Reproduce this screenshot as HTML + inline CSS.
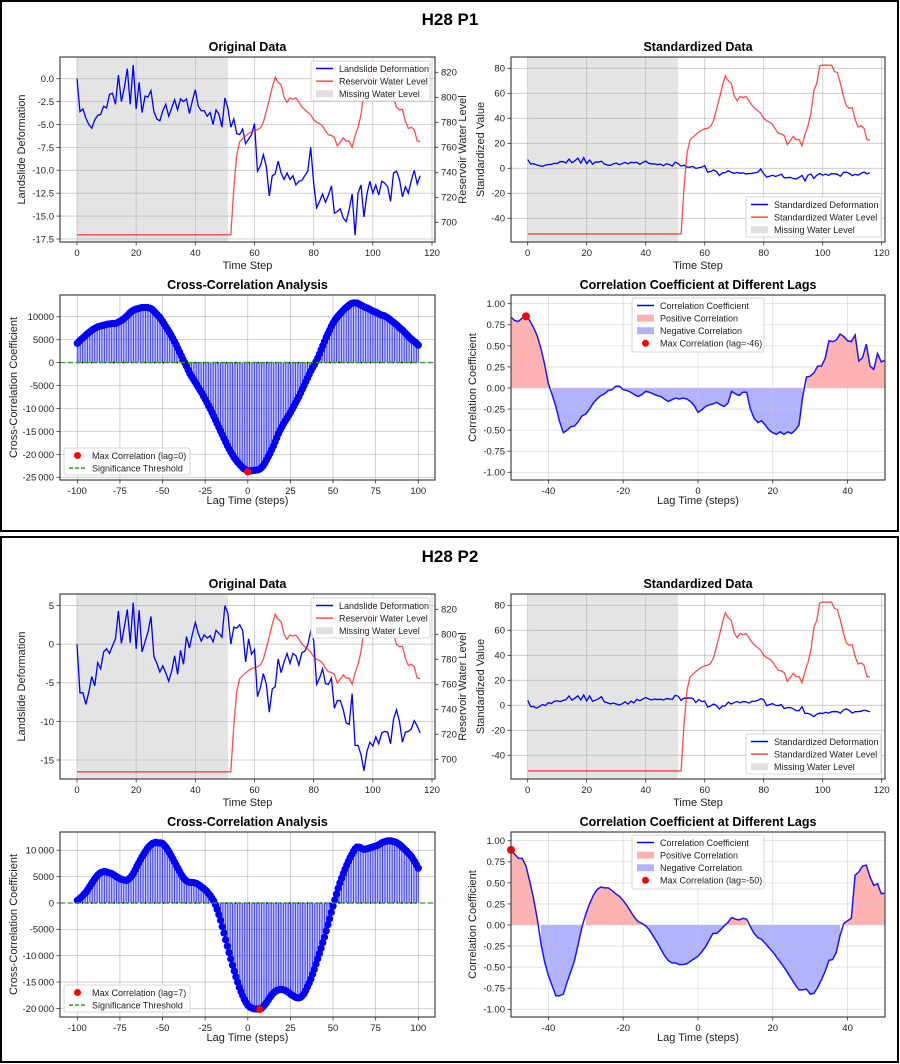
<!DOCTYPE html>
<html><head><meta charset="utf-8"><style>
html,body{margin:0;padding:0;background:#fff}
svg{display:block;font-family:"Liberation Sans",sans-serif}
</style></head><body>
<svg id="chart" width="900" height="1064" viewBox="0 0 900 1064" xmlns="http://www.w3.org/2000/svg"></svg>
<script>
// ---------- data ----------
const timeSteps = Array.from({length:117},(_,i)=>i);
const water = [690,690,690,690,690,690,690,690,690,690,690,690,690,690,690,690,690,690,690,690,690,690,690,690,690,690,690,690,690,690,690,690,690,690,690,690,690,690,690,690,690,690,690,690,690,690,690,690,690,690,690,690,690,
727,754,764.5,767,769,771,772.5,773.5,774,775.5,780,789,798,808,816,812,810,800,796,799.5,798.5,799.5,796,792.5,790,788,786,782,780,779,777,773,770,769.5,768,761,764,767.5,765,765,760,769,776,786,804,810,824,824.5,824.5,824.5,824.5,819.5,818.5,810,800,792,790,790.5,781,775,776,774,765,764.5];
const waterStd = [-52.5,-52.5,-52.5,-52.5,-52.5,-52.5,-52.5,-52.5,-52.5,-52.5,-52.5,-52.5,-52.5,-52.5,-52.5,-52.5,-52.5,-52.5,-52.5,-52.5,-52.5,-52.5,-52.5,-52.5,-52.5,-52.5,-52.5,-52.5,-52.5,-52.5,-52.5,-52.5,-52.5,-52.5,-52.5,-52.5,-52.5,-52.5,-52.5,-52.5,-52.5,-52.5,-52.5,-52.5,-52.5,-52.5,-52.5,-52.5,-52.5,-52.5,-52.5,-52.5,-52.5,
-15,12,22.5,25,27,29,30.5,31.5,32,33.5,38,47,56,66,74,70,68,58,54,57.5,56.5,57.5,54,50.5,48,46,44,40,38,37,35,31,28,27.5,26,19,22,25.5,23,23,18,27,34,44,62,68,82,82.5,82.5,82.5,82.5,77.5,76.5,68,58,50,48,48.5,39,33,34,32,23,22.5];
const defo1 = [0,-3.6,-3.3,-4.3,-5.0,-5.4,-4.5,-4.0,-3.9,-3.0,-3.2,-1.7,-1.6,-2.8,0.4,-2.5,-1.0,1.1,-2.8,1.5,-3.3,-0.4,-3.7,-1.9,-2.0,-1.3,-3.6,-4.4,-4.6,-3.5,-2.8,-4.1,-3.2,-2.3,-3.4,-2.2,-2.5,-2.2,-3.8,-2.4,-1.2,-3.0,-3.5,-3.5,-4.1,-3.7,-5.0,-3.4,-3.9,-5.3,-2.1,-3.2,-5.3,-4.4,-6.0,-6.1,-5.5,-7.1,-6.6,-6.1,-4.9,-10.1,-9.5,-8.3,-9.6,-12.8,-10.6,-10.4,-9.0,-10.3,-11.0,-10.3,-11.0,-10.6,-11.6,-11.2,-11.1,-10.6,-10.1,-7.5,-11.4,-14.1,-13.4,-12.6,-13.5,-12.7,-11.7,-14.7,-14.5,-14.2,-15.2,-15.6,-14.3,-12.6,-17.1,-12.5,-11.6,-15.1,-12.6,-11.2,-12.5,-11.6,-12.7,-11.2,-11.4,-11.8,-13.4,-10.3,-10.1,-11.0,-12.9,-11.8,-12.5,-11.1,-10.0,-11.5,-10.6];
const defoStd1 = [7,3.4,3.7,2.7,2,1.6,2.5,3,3.1,4,3.8,5.3,5.4,4.2,7.4,4.5,6,8.1,4.2,8.5,3.7,6.6,3.3,5.1,5,5.7,3.4,2.6,2.4,3.5,4.2,2.9,3.8,4.7,3.6,4.8,4.5,4.8,3.2,4.6,5.8,4,3.5,3.5,2.9,3.3,2,3.6,3.1,1.7,4.9,3.8,1.7,2.6,1,0.9,1.5,-0.1,0.4,0.9,2.1,-3.1,-2.5,-1.3,-2.6,-5.8,-3.6,-3.4,-2,-3.3,-4,-3.3,-4,-3.6,-4.6,-4.2,-4.1,-3.6,-3.1,-0.5,-4.4,-7.1,-6.4,-5.6,-6.5,-5.7,-4.7,-7.7,-7.5,-7.2,-8.2,-8.6,-7.3,-5.6,-10.1,-5.5,-4.6,-8.1,-5.6,-4.2,-5.5,-4.6,-5.7,-4.2,-4.4,-4.8,-6.4,-3.3,-3.1,-4,-5.9,-4.8,-5.5,-4.1,-3,-4.5,-3.6];
const defo2 = [0,-6.3,-6.3,-7.8,-6.2,-4.2,-5.4,-2.4,-3.2,-1.0,-0.6,-1.2,-0.2,0.7,4.3,0.1,2.2,4.5,0.2,5.4,-0.6,4.4,-1.0,0.3,1.6,3.6,-1.6,-2.5,-3.6,-2.8,-3.7,-4.8,-3.5,-1.5,-3.9,-0.8,-2.6,1.0,-0.5,1.3,2.8,1.4,0.4,1.2,0.8,1.1,0.3,1.8,1.4,0.9,5.0,4.0,0,2.2,2.1,2.5,1.8,-2.3,0.7,-1.3,-0.7,-6.8,-5.6,-3.8,-5.2,-8.8,-5.8,-5.5,-1.9,-3.7,-2.3,-1.2,-2.5,-1.2,-1.5,-2.7,-1.1,-0.9,-0.1,1.7,0.5,-5.2,-4.4,-3.2,-5.1,-5.2,-4.4,-8.3,-7.3,-7.3,-8.5,-10.2,-10.4,-6.4,-13.1,-13.1,-14.3,-16.4,-13.9,-12.7,-13.2,-12.0,-12.9,-11.5,-11.3,-11.4,-12.9,-9.7,-8.5,-10.0,-12.7,-11.4,-11.3,-11.0,-9.9,-10.6,-11.5];
const defoStd2 = [4,-1,-1,-2.2,-1,0.6,-0.3,2.1,1.4,3.2,3.5,3,3.8,4.6,7.4,4.1,5.8,7.6,4.2,8.3,3.5,7.5,3.2,4.2,5.3,6.9,2.7,2,1.1,1.8,1,0.2,1.2,2.8,0.9,3.4,1.9,4.8,3.6,5,6.2,5.1,4.3,5,4.6,4.9,4.2,5.4,5.1,4.7,8,7.2,4,5.8,5.7,6,5.4,2.2,4.6,3,3.4,-1.4,-0.5,1,-0.2,-3,-0.6,-0.4,2.5,1,2.2,3,2,3,2.8,1.8,3.1,3.3,3.9,5.4,4.4,-0.2,0.5,1.4,-0.1,-0.2,0.5,-2.6,-1.8,-1.8,-2.8,-4.2,-4.3,-1.1,-6.5,-6.5,-7.4,-9.1,-7.1,-6.2,-6.6,-5.6,-6.3,-5.2,-5,-5.1,-6.3,-3.8,-2.8,-4,-6.2,-5.1,-5,-4.8,-3.9,-4.5,-5.2];
const missingSpan = [0, 51];
const xcorrLags = Array.from({length:201},(_,i)=>i-100);
// cross-correlation values in thousands
const xcorr1 = [4.2,4.6,5.0,5.3,5.6,6.0,6.3,6.6,6.9,7.2,7.4,
7.6,7.8,7.9,8.0,8.1,8.2,8.3,8.4,8.4,8.5,
8.5,8.5,8.6,8.8,9.0,9.2,9.5,9.8,10.1,10.5,
10.9,11.2,11.4,11.6,11.7,11.8,11.9,12.0,12.0,12.0,
12.0,11.9,11.8,11.6,11.2,10.8,10.4,10.0,9.5,9.0,
8.4,7.8,7.2,6.6,6.0,5.3,4.6,3.9,3.1,2.3,
1.5,0.7,0.0,-0.8,-1.6,-2.4,-3.0,-3.6,-4.2,-4.8,
-5.4,-6.0,-6.6,-7.3,-8.0,-8.7,-9.4,-10.1,-10.9,-11.7,
-12.5,-13.3,-14.1,-14.9,-15.7,-16.5,-17.3,-18.1,-18.8,-19.5,
-20.1,-20.7,-21.2,-21.7,-22.1,-22.5,-22.9,-23.2,-23.4,-23.8,
-23.6,-23.6,-23.5,-23.5,-23.4,-23.4,-23.2,-22.9,-22.5,-21.9,
-21.2,-20.5,-19.8,-19.0,-18.2,-17.3,-16.4,-15.5,-14.7,-14.0,
-13.3,-12.7,-12.1,-11.5,-10.9,-10.2,-9.5,-8.8,-8.1,-7.4,
-6.6,-5.8,-5.0,-4.2,-3.4,-2.6,-1.8,-1.1,-0.5,0.2,
1.0,1.9,2.8,3.7,4.6,5.5,6.3,7.1,7.9,8.6,
9.2,9.7,10.2,10.6,11.0,11.4,11.8,12.1,12.4,12.7,
12.9,13.0,13.0,13.0,12.8,12.6,12.4,12.2,12.0,11.9,
11.7,11.5,11.3,11.1,11.0,10.8,10.6,10.4,10.3,10.2,
10.0,9.8,9.5,9.2,8.9,8.6,8.3,8.0,7.6,7.3,
7.0,6.6,6.2,5.8,5.4,5.1,4.8,4.5,4.2,3.8];
const xcorr2 = [0.5,0.7,1.0,1.3,1.7,2.0,2.5,3.0,3.5,4.0,4.5,
4.9,5.3,5.6,5.8,5.9,6.0,5.9,5.8,5.7,5.6,
5.4,5.2,5.0,4.8,4.6,4.5,4.4,4.3,4.3,4.5,
4.8,5.2,5.7,6.3,7.0,7.6,8.2,8.8,9.3,9.8,
10.3,10.7,11.0,11.3,11.4,11.5,11.4,11.4,11.4,11.3,
11.0,10.6,10.1,9.6,9.0,8.4,7.8,7.2,6.6,6.0,
5.4,4.9,4.5,4.2,4.0,3.9,3.9,3.9,3.8,3.7,
3.5,3.3,3.0,2.8,2.5,2.2,1.8,1.4,0.9,0.4,
-0.3,-1.2,-2.2,-3.3,-4.5,-5.7,-7.0,-8.2,-9.4,-10.6,
-11.8,-12.9,-14.0,-15.0,-16.0,-16.8,-17.6,-18.3,-18.9,-19.4,
-19.7,-19.9,-20.0,-20.1,-20.1,-20.1,-20.2,-20.0,-19.7,-19.3,
-18.9,-18.4,-17.9,-17.5,-17.1,-16.8,-16.6,-16.5,-16.4,-16.4,
-16.5,-16.6,-16.8,-17.0,-17.3,-17.5,-17.7,-17.9,-18.0,-18.0,
-17.9,-17.6,-17.2,-16.6,-15.9,-15.2,-14.4,-13.5,-12.6,-11.6,
-10.6,-9.6,-8.6,-7.5,-6.5,-5.3,-4.1,-3.0,-1.8,-0.6,
0.6,1.7,2.8,3.8,4.7,5.6,6.4,7.2,7.9,8.6,
9.2,9.8,10.3,10.6,10.6,10.5,10.3,10.2,10.2,10.3,
10.4,10.5,10.6,10.7,10.8,10.9,11.1,11.3,11.5,11.6,
11.7,11.8,11.8,11.8,11.7,11.6,11.5,11.3,11.1,10.8,
10.5,10.2,9.9,9.5,9.2,8.8,8.3,7.8,7.2,6.6];
const corrLags = Array.from({length:101},(_,i)=>i-50);
const corr1 = [0.84,0.80,0.79,0.83,0.85,0.80,0.72,0.62,0.47,0.28,0.05,-0.08,-0.22,-0.40,-0.53,-0.50,-0.46,-0.45,-0.40,-0.33,-0.31,-0.25,-0.18,-0.13,-0.09,-0.07,-0.03,-0.02,0.02,0.02,-0.02,-0.03,-0.05,-0.08,-0.10,-0.08,-0.04,-0.05,-0.07,-0.09,-0.10,-0.13,-0.16,-0.14,-0.12,-0.13,-0.12,-0.13,-0.16,-0.21,-0.29,-0.26,-0.22,-0.20,-0.19,-0.17,-0.20,-0.22,-0.18,-0.04,-0.07,-0.09,-0.05,-0.05,-0.25,-0.36,-0.41,-0.39,-0.44,-0.50,-0.53,-0.55,-0.52,-0.55,-0.52,-0.54,-0.50,-0.44,-0.10,0.13,0.14,0.18,0.26,0.26,0.35,0.56,0.55,0.57,0.64,0.61,0.56,0.55,0.63,0.32,0.36,0.52,0.26,0.22,0.41,0.31,0.33];
const corr2 = [0.89,0.84,0.79,0.79,0.70,0.52,0.32,0.08,-0.22,-0.44,-0.60,-0.72,-0.84,-0.84,-0.82,-0.68,-0.55,-0.42,-0.22,-0.02,0.13,0.25,0.35,0.42,0.45,0.44,0.44,0.41,0.37,0.34,0.29,0.23,0.16,0.09,0.04,0.02,-0.01,-0.06,-0.13,-0.20,-0.28,-0.36,-0.42,-0.45,-0.45,-0.47,-0.47,-0.46,-0.43,-0.40,-0.37,-0.32,-0.26,-0.18,-0.10,-0.10,-0.06,-0.01,0.03,0.09,0.07,0.06,0.08,0.07,-0.02,-0.10,-0.15,-0.17,-0.22,-0.27,-0.32,-0.38,-0.44,-0.50,-0.57,-0.64,-0.71,-0.77,-0.77,-0.76,-0.82,-0.81,-0.74,-0.65,-0.55,-0.42,-0.41,-0.32,-0.12,0.02,0.05,0.08,0.59,0.63,0.70,0.71,0.57,0.47,0.49,0.37,0.38];
const timeTicks = [0,20,40,60,80,100,120];
const waterTicks = [700,720,740,760,780,800,820];
const stdTicks = [-40,-20,0,20,40,60,80];
const lagTicks = [-100,-75,-50,-25,0,25,50,75,100];
const corrLagTicks = [-40,-20,0,20,40];
const corrTicks = [-1,-0.75,-0.5,-0.25,0,0.25,0.5,0.75,1];
const defoTicks1 = [0,-2.5,-5,-7.5,-10,-12.5,-15,-17.5];
const defoTicks2 = [5,0,-5,-10,-15];
const xcTicks1 = [10,5,0,-5,-10,-15,-20,-25];
const xcTicks2 = [10,5,0,-5,-10,-15,-20];

// ---------- helpers ----------
const NS='http://www.w3.org/2000/svg';
const svg=document.getElementById('chart');
function mk(tag,attrs,parent){const e=document.createElementNS(NS,tag);for(const k in attrs)e.setAttribute(k,attrs[k]);(parent||svg).appendChild(e);return e;}
function lin(d0,d1,r0,r1){return v=>r0+(v-d0)*(r1-r0)/(d1-d0);}
function txt(p,x,y,s,o){o=o||{};const t=mk('text',{x:x,y:y,'font-size':o.size||9.5,'text-anchor':o.anchor||'middle',fill:o.fill||'#222','font-weight':o.bold?'bold':'normal'},p);if(o.rot)t.setAttribute('transform','rotate(-90 '+x+' '+y+')');t.textContent=s;return t;}
function minus(s){return String(s);}
function pathD(xs,ys,sx,sy){return xs.map((x,i)=>(i?'L':'M')+sx(x).toFixed(2)+','+sy(ys[i]).toFixed(2)).join('');}
function gridX(g,ticks,sx,T,B,col,op){ticks.forEach(t=>{const l=mk('line',{x1:sx(t),x2:sx(t),y1:T,y2:B,stroke:col,'stroke-width':0.8,opacity:op},g);});}
function gridY(g,ticks,sy,L,R,col,op){ticks.forEach(t=>{const l=mk('line',{x1:L,x2:R,y1:sy(t),y2:sy(t),stroke:col,'stroke-width':0.8,opacity:op},g);});}
function xTickLabels(g,ticks,sx,B,fmt){ticks.forEach(t=>{mk('line',{x1:sx(t),x2:sx(t),y1:B,y2:B+3.5,stroke:'#333','stroke-width':0.8},g);const e=txt(g,sx(t),B+14,minus(fmt(t)));});}
function yTickLabels(g,ticks,sy,L,fmt,right){ticks.forEach(t=>{mk('line',{x1:L,x2:right?L+3.5:L-3.5,y1:sy(t),y2:sy(t),stroke:'#333','stroke-width':0.8},g);const e=txt(g,right?L+6:L-6,sy(t)+3.4,minus(fmt(t)),{anchor:right?'start':'end'});});}
function frame(g,L,T,R,B){const r=mk('rect',{x:L,y:T,width:R-L,height:B-T,fill:'none',stroke:'#444','stroke-width':1.2},g);}
function legend(g,x,y,w,h,items){const box=mk('rect',{x:x,y:y,width:w,height:h,rx:2,fill:'#fff','fill-opacity':0.85,stroke:'#ccc','stroke-width':0.8},g);
 items.forEach((it,i)=>{const cy=y+7.5+i*12.6;const sg=mk('g',{},g);
  if(it.type==='line')mk('line',{x1:x+5,x2:x+22,y1:cy,y2:cy,stroke:it.color,'stroke-width':1.5,opacity:it.op||1,'stroke-dasharray':it.dash||'none'},sg);
  else if(it.type==='patch')mk('rect',{x:x+5,y:cy-3.5,width:17,height:7,fill:it.color,opacity:it.op||1},sg);
  else mk('circle',{cx:x+13.5,cy:cy,r:3.5,fill:it.color},sg);
  txt(sg,x+28,cy+3.3,it.label,{anchor:'start',size:9});});}

function originalPanel(dy,defo,dMin,dMax,dTicks,dFmt){
 const g=mk('g',{});
 const L=60,R=435,T=57+dy,B=242+dy;
 const sx=lin(0,120,77,432),sy=lin(dMin,dMax,B,T),sw=lin(700,820,B-(242-222.3),T+(72.3-57));
 const sh=mk('rect',{x:sx(missingSpan[0]),y:T,width:sx(missingSpan[1])-sx(missingSpan[0]),height:B-T,fill:'#e4e4e4'},g);
 gridX(g,timeTicks.filter(t=>t<=120),sx,T,B,'#b0b0b0',0.7);gridY(g,dTicks,sy,L,R,'#b0b0b0',0.7);
 const p1=mk('path',{d:pathD(timeSteps,defo,sx,sy),fill:'none',stroke:'#0000ff','stroke-width':1.3},g);
 const p2=mk('path',{d:pathD(timeSteps,water,sx,sw),fill:'none',stroke:'#ff0000','stroke-opacity':0.7,'stroke-width':1.3},g);
 frame(g,L,T,R,B);
 xTickLabels(g,timeTicks,sx,B,t=>t);yTickLabels(g,dTicks,sy,L,dFmt);yTickLabels(g,waterTicks,sw,R,t=>t,true);
 let e=txt(g,247.5,B+27,'Time Step',{size:11});
 e=txt(g,25,(T+B)/2,'Landslide Deformation',{size:11,rot:true});
 e=txt(g,466,(T+B)/2,'Reservoir Water Level',{size:11,rot:true});
 e=txt(g,247.5,T-6,'Original Data',{size:12.5,bold:true,fill:'#000'});
 legend(g,311,61+dy,119,40,[{type:'line',color:'#0000ff',label:'Landslide Deformation'},{type:'line',color:'#ff0000',op:0.7,label:'Reservoir Water Level'},{type:'patch',color:'#e0e0e0',label:'Missing Water Level'}]);
}
function stdPanel(dy,ds){
 const g=mk('g',{});
 const L=511,R=885,T=57+dy,B=242+dy;
 const sx=lin(0,120,527.7,881.7),sy=lin(-40,80,218.3+dy,68.3+dy);
 const sh=mk('rect',{x:sx(missingSpan[0]),y:T,width:sx(missingSpan[1])-sx(missingSpan[0]),height:B-T,fill:'#e4e4e4'},g);
 gridX(g,timeTicks,sx,T,B,'#b0b0b0',0.7);gridY(g,stdTicks,sy,L,R,'#b0b0b0',0.7);
 const p1=mk('path',{d:pathD(timeSteps,ds,sx,sy),fill:'none',stroke:'#0000ff','stroke-width':1.3},g);
 const p2=mk('path',{d:pathD(timeSteps,waterStd,sx,sy),fill:'none',stroke:'#ff0000','stroke-opacity':0.7,'stroke-width':1.3},g);
 frame(g,L,T,R,B);
 xTickLabels(g,timeTicks,sx,B,t=>t);yTickLabels(g,stdTicks,sy,L,t=>t);
 let e=txt(g,698,B+27,'Time Step',{size:11});
 e=txt(g,484,(T+B)/2,'Standardized Value',{size:11,rot:true});
 e=txt(g,698,T-6,'Standardized Data',{size:12.5,bold:true,fill:'#000'});
 legend(g,746,197+dy,135,40,[{type:'line',color:'#0000ff',label:'Standardized Deformation'},{type:'line',color:'#ff0000',op:0.7,label:'Standardized Water Level'},{type:'patch',color:'#e0e0e0',label:'Missing Water Level'}]);
}
function xcorrPanel(dy,vals,yMin,yMax,ticks,fmt){
 const g=mk('g',{});
 const L=60,R=435,T=295+dy,B=480+dy;
 const sx=lin(-100,100,77.3,418.3),sy=lin(yMin,yMax,B,T);
 gridX(g,lagTicks,sx,T,B,'#b0b0b0',0.7);gridY(g,ticks,sy,L,R,'#b0b0b0',0.7);
 xcorrLags.forEach((l,i)=>{const s=mk('line',{x1:sx(l),x2:sx(l),y1:sy(0),y2:sy(vals[i]),stroke:'#0000ff','stroke-width':1,opacity:0.75},g);});
 xcorrLags.forEach((l,i)=>{const c=mk('circle',{cx:sx(l),cy:sy(vals[i]),r:3.6,fill:'#0000ff'},g);});
 const base=mk('line',{x1:sx(-100),x2:sx(100),y1:sy(0),y2:sy(0),stroke:'#000','stroke-width':1.5,'stroke-dasharray':'1.5,3'},g);
 const th=mk('line',{x1:L,x2:R,y1:sy(0),y2:sy(0),stroke:'#2ca02c','stroke-width':1.3,'stroke-dasharray':'5,3'},g);
 let mi=0;vals.forEach((v,i)=>{if(Math.abs(v)>Math.abs(vals[mi]))mi=i;});
 const md=mk('circle',{cx:sx(xcorrLags[mi]),cy:sy(vals[mi]),r:3.6,fill:'#ff0000'},g);
 frame(g,L,T,R,B);
 xTickLabels(g,lagTicks,sx,B,t=>t);yTickLabels(g,ticks,sy,L,fmt);
 let e=txt(g,247.5,B+24,'Lag Time (steps)',{size:11});
 e=txt(g,17,(T+B)/2,'Cross-Correlation Coefficient',{size:11,rot:true});
 e=txt(g,247.5,T-6,'Cross-Correlation Analysis',{size:12.5,bold:true,fill:'#000'});
 legend(g,64,B-32,126,27,[{type:'dot',color:'#ff0000',label:'Max Correlation (lag='+xcorrLags[mi]+')'},{type:'line',color:'#2ca02c',dash:'4,2',label:'Significance Threshold'}]);
}
function corrPanel(dy,vals){
 const g=mk('g',{});
 const L=511,R=885,T=295+dy,B=480+dy;
 const sx=lin(-50,50,L,R),sy=lin(-1,1,472.3+dy,303.7+dy);
 function runs(pred,color,name){let s=-1;for(let i=0;i<=vals.length;i++){const ok=i<vals.length&&pred(vals[i]);if(ok&&s<0)s=i;if(!ok&&s>=0){let d='M'+sx(corrLags[s])+','+sy(0);for(let j=s;j<i;j++)d+='L'+sx(corrLags[j])+','+sy(vals[j]);d+='L'+sx(corrLags[i-1])+','+sy(0)+'Z';const p=mk('path',{d:d,fill:color,opacity:0.3},g);s=-1;}}}
 runs(v=>v>=0,'#ff0000','positive-fill');runs(v=>v<0,'#0000ff','negative-fill');
 gridX(g,corrLagTicks,sx,T,B,'#c8c8c8',0.6);gridY(g,corrTicks,sy,L,R,'#c8c8c8',0.6);
 const p=mk('path',{d:pathD(corrLags,vals,sx,sy),fill:'none',stroke:'#0000ff','stroke-width':1.5,opacity:0.9},g);
 let mi=0;vals.forEach((v,i)=>{if(v>vals[mi])mi=i;});
 const md=mk('circle',{cx:sx(corrLags[mi]),cy:sy(vals[mi]),r:4,fill:'#ff0000'},g);
 frame(g,L,T,R,B);
 xTickLabels(g,corrLagTicks,sx,B,t=>t);yTickLabels(g,corrTicks,sy,L,t=>t.toFixed(2));
 let e=txt(g,698,B+24,'Lag Time (steps)',{size:11});
 e=txt(g,476,(T+B)/2,'Correlation Coefficient',{size:11,rot:true});
 e=txt(g,698,T-6,'Correlation Coefficient at Different Lags',{size:12.5,bold:true,fill:'#000'});
 legend(g,632,T+3,132,54,[{type:'line',color:'#0000ff',label:'Correlation Coefficient'},{type:'patch',color:'#ff0000',op:0.3,label:'Positive Correlation'},{type:'patch',color:'#0000ff',op:0.3,label:'Negative Correlation'},{type:'dot',color:'#ff0000',label:'Max Correlation (lag='+corrLags[mi]+')'}]);
}
function thous(t){const v=Math.round(t*1000);const a=Math.abs(v);let s=a>=10000?String(a).replace(/(\d+)(\d{3})$/,'$1\u2009$2'):String(a);return (v<0?'-':'')+s;}
function thous1(t){const v=Math.round(t*1000);if(v<=-10000){const a=String(-v);return '-'+a.slice(0,a.length-3)+'\u2009'+a.slice(-3);}return String(v);}

[[1,1,897,530,'panel-p1'],[1,537,897,525,'panel-p2']].forEach(b=>{const r=mk('rect',{x:b[0],y:b[1],width:b[2],height:b[3],fill:'none',stroke:'#000','stroke-width':2});});
let st=txt(svg,450,25,'H28 P1',{size:17,bold:true,fill:'#000'});
st=txt(svg,450,562,'H28 P2',{size:17,bold:true,fill:'#000'});

originalPanel(0,defo1,-17.83,2.37,defoTicks1,t=>t.toFixed(1));
stdPanel(0,defoStd1);
xcorrPanel(0,xcorr1,-25.59,14.73,xcTicks1,thous1);
corrPanel(0,corr1);
originalPanel(537,defo2,-17.46,6.5,defoTicks2,t=>String(t));
stdPanel(537,defoStd2);
xcorrPanel(537,xcorr2,-21.63,13.47,xcTicks2,thous);
corrPanel(537,corr2);
</script>
</body></html>
